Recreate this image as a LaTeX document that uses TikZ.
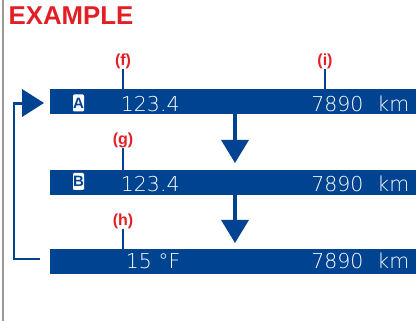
\documentclass[tikz,border=0pt]{standalone}
\usepackage{fontspec}
\setmainfont{Liberation Sans}
\newfontfamily\lcd{DejaVu Sans ExtraLight}
\usetikzlibrary{arrows.meta}
\definecolor{barblue}{RGB}{0,68,145}
\definecolor{lblred}{RGB}{228,30,37}
\begin{document}
\begin{tikzpicture}[x=1pt,y=-1pt,
  bar/.style={fill=barblue, minimum width=366pt, minimum height=25pt, inner sep=0pt, anchor=north west},
  lcdtext/.style={text=white, font=\lcd\fontsize{20.5}{20.5}\selectfont, inner sep=0pt},
  icon/.style={fill=white, rounded corners=1.2pt, minimum width=11pt, minimum height=17pt, inner sep=0pt, text=barblue, font=\bfseries\fontsize{15}{15}\selectfont},
  lbl/.style={text=lblred, font=\bfseries\fontsize{16}{16}\selectfont, inner sep=0pt},
  lead/.style={draw=barblue, line width=1.5pt},
  downarrow/.style={draw=barblue, line width=3.3pt, -{Triangle[width=27pt,length=23pt]}},
  fb/.style={draw=barblue, line width=2.5pt},
]
\useasboundingbox (0,0) rectangle (416,321);
\draw[gray!80, line width=1.6pt] (3,0) -- (3,321);
\node[text=lblred, font=\bfseries\fontsize{25.8}{25.8}\selectfont, anchor=base west, inner sep=0pt] (title) at (8.5,25) {EXAMPLE};
% bars
\node[bar] (bar1) at (50,89) {};
\node[bar] (bar2) at (50,170) {};
\node[bar] (bar3) at (50,249) {};
% icons
\node[icon] (iconA) at (78.5,103) {A};
\node[icon] (iconB) at (78.5,181.5) {B};
% texts
\node[lcdtext, anchor=base west] (d1) at (120.7,111.5) {123.4};
\node[lcdtext, anchor=base east] (o1) at (409.5,111.5) {7890\hspace{14pt}km};
\node[lcdtext, anchor=base west] (d2) at (120.7,192) {123.4};
\node[lcdtext, anchor=base east] (o2) at (409.5,192) {7890\hspace{14pt}km};
\node[lcdtext, anchor=base west] (d3) at (125.7,268.5) {15 °F};
\node[lcdtext, anchor=base east] (o3) at (409.5,268.5) {7890\hspace{14pt}km};
% labels
\node[lbl] (lf) at (123,61.5) {(f)};
\node[lbl] (li) at (325,61.5) {(i)};
\node[lbl] (lg) at (123,140.5) {(g)};
\node[lbl] (lh) at (123,221) {(h)};
\draw[lead] (lf.south) -- (lf.south |- bar1.north);
\draw[lead] (li.south) -- (li.south |- bar1.north);
\draw[lead] (lg.south) -- (lg.south |- bar2.north);
\draw[lead] (lh.south) -- (lh.south |- bar3.north);
% down arrows
\coordinate (ax) at (235,0);
\draw[downarrow, shorten >=7pt] (bar1.south -| ax) -- (bar2.north -| ax);
\draw[downarrow, shorten >=6pt] (bar2.south -| ax) -- (bar3.north -| ax);
% pointer and feedback
\fill[barblue] (22,89) -- (44,103) -- (22,117) -- cycle;
\coordinate (ptr) at (22,103.5);
\draw[fb] ([xshift=-10pt,yshift=2.5pt]bar3.west) -- ++(-26,0) |- (ptr);
\end{tikzpicture}
\end{document}
